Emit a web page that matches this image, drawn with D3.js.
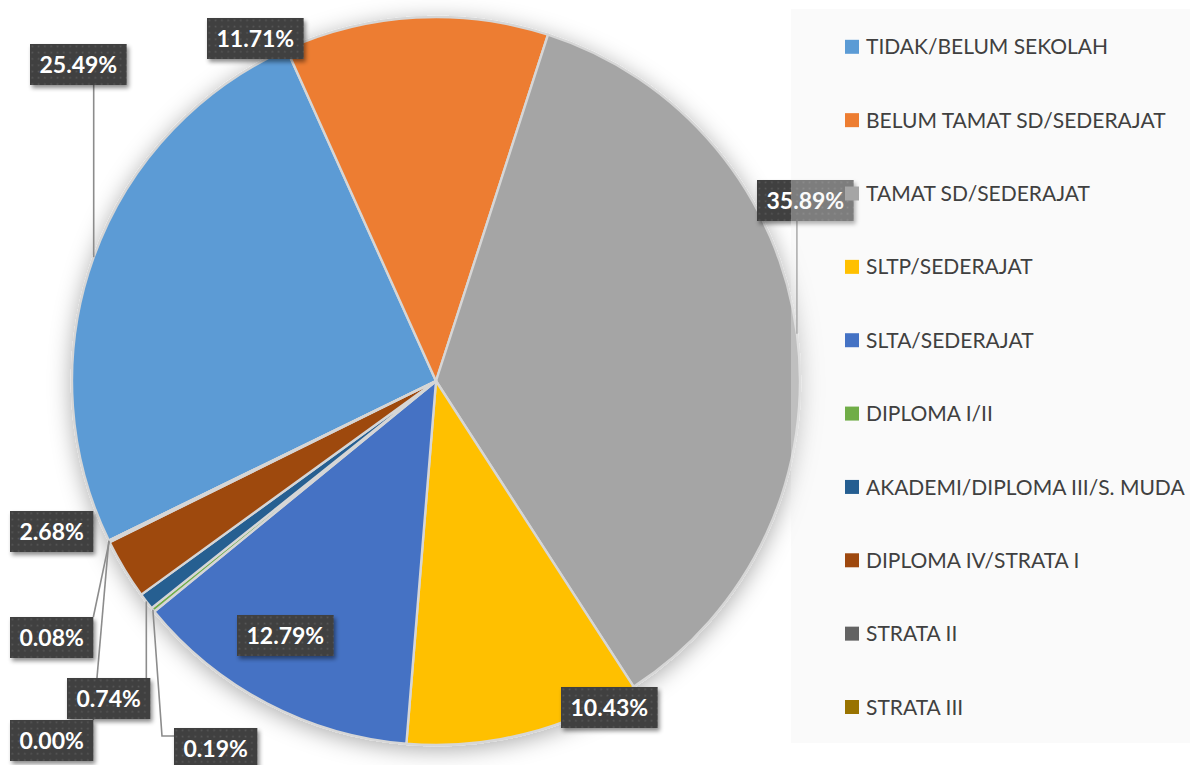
<!DOCTYPE html>
<html>
<head>
<meta charset="utf-8">
<script src="https://cdn.jsdelivr.net/npm/d3@7"></script>
<style>
  html, body { margin: 0; padding: 0; background: #fff; }
  svg { display: block; font-family: Lato, "Open Sans", sans-serif; }
</style>
</head>
<body>
<svg id="chart" width="1190" height="765"></svg>
<script>
// data, in slice order
var categories = ["TIDAK/BELUM SEKOLAH", "BELUM TAMAT SD/SEDERAJAT", "TAMAT SD/SEDERAJAT",
                  "SLTP/SEDERAJAT", "SLTA/SEDERAJAT", "DIPLOMA I/II",
                  "AKADEMI/DIPLOMA III/S. MUDA", "DIPLOMA IV/STRATA I", "STRATA II", "STRATA III"];
var shares = [25.49, 11.71, 35.89, 10.43, 12.79, 0.19, 0.74, 2.68, 0.08, 0.00];
var colors = ["#5b9bd5", "#ed7d31", "#a5a5a5", "#ffc000", "#4472c4",
              "#70ad47", "#255e91", "#9e480e", "#636363", "#997300"];

// label box placement (top-left), leader line and elbow flags
var labelPos = [
    {x: 30,  y: 44,  line: true,  elbow: false},
    {x: 207, y: 18,  line: false, elbow: false},
    {x: 757, y: 180, line: true,  elbow: false},
    {x: 561, y: 687, line: false, elbow: false},
    {x: 237, y: 615, line: false, elbow: false},
    {x: 174, y: 728, line: true,  elbow: true},
    {x: 67,  y: 678, line: true,  elbow: false},
    {x: 10,  y: 511, line: false, elbow: false},
    {x: 10,  y: 617, line: true,  elbow: false},
    {x: 10,  y: 720, line: true,  elbow: false}
];

var svg = d3.select("#chart");
var cx = 436, cy = 381, radius = 364;
var startA = -116 * Math.PI / 180;

var defs = svg.append("defs");
var pieShadow = defs.append("filter").attr("id", "pieShadow")
    .attr("x", "-20%").attr("y", "-20%").attr("width", "140%").attr("height", "140%");
pieShadow.append("feDropShadow").attr("dx", 0).attr("dy", 4)
    .attr("stdDeviation", 11).attr("flood-color", "#000").attr("flood-opacity", 0.32);

var boxShadow = defs.append("filter").attr("id", "boxShadow")
    .attr("x", "-20%").attr("y", "-30%").attr("width", "150%").attr("height", "170%");
boxShadow.append("feDropShadow").attr("dx", 2).attr("dy", 3)
    .attr("stdDeviation", 2.2).attr("flood-color", "#000").attr("flood-opacity", 0.45);

var dots = defs.append("pattern").attr("id", "dots")
    .attr("patternUnits", "userSpaceOnUse").attr("width", 6.3).attr("height", 6.3);
dots.append("rect").attr("width", 6.3).attr("height", 6.3).attr("fill", "#404040");
dots.append("rect").attr("x", 1.5).attr("y", 1.5).attr("width", 1.6).attr("height", 1.6).attr("fill", "#585858");

var pie = d3.pie().sort(null).value(function(d){ return d; })
    .startAngle(startA).endAngle(startA + 2 * Math.PI);
var arcs = pie(shares);

var arc = d3.arc().innerRadius(0).outerRadius(radius);

var pieG = svg.append("g")
    .attr("transform", "translate(" + cx + "," + cy + ")")
    .attr("filter", "url(#pieShadow)");

pieG.selectAll("path")
    .data(arcs)
    .enter().append("path")
    .attr("d", arc)
    .attr("fill", function(d, i){ return colors[i]; })
    .attr("stroke", "#d6d6d6")
    .attr("stroke-width", 2.4)
    .attr("stroke-linejoin", "round");

// leader lines
function arcPoint(d) {
    var a = (d.startAngle + d.endAngle) / 2;
    return [cx + radius * Math.sin(a), cy - radius * Math.cos(a)];
}

var fmt = d3.format(".2f");
var boxH = 41, padX = 9.5;

var labelG = svg.append("g");

// measure text widths first
var tmp = labelG.append("text").attr("font-size", 23).attr("font-weight", "bold");
var widths = arcs.map(function(d){
    tmp.text(fmt(d.data) + "%");
    return tmp.node().getComputedTextLength() + 2 * padX;
});
tmp.remove();

var lineG = svg.insert("g", "g:last-of-type");
arcs.forEach(function(d, i){
    var p = labelPos[i];
    if (!p.line) return;
    var ap = arcPoint(d);
    var w = widths[i];
    var pts;
    if (p.elbow) {
        var my = p.y + 8;
        pts = [ap, [p.x - 12, my], [p.x, my]];
    } else {
        var bx = Math.max(p.x, Math.min(p.x + w, ap[0]));
        var by = Math.max(p.y, Math.min(p.y + boxH, ap[1]));
        pts = [ap, [bx, by]];
    }
    lineG.append("path")
        .attr("d", d3.line()(pts))
        .attr("fill", "none")
        .attr("stroke", "#8c8c8c")
        .attr("stroke-width", 1.6);
});

var lab = labelG.selectAll("g.lab")
    .data(arcs)
    .enter().append("g")
    .attr("class", "lab")
    .attr("transform", function(d, i){ return "translate(" + labelPos[i].x + "," + labelPos[i].y + ")"; });

lab.append("rect")
    .attr("width", function(d, i){ return widths[i]; })
    .attr("height", boxH)
    .attr("fill", "url(#dots)")
    .attr("filter", "url(#boxShadow)");

lab.append("text")
    .attr("x", function(d, i){ return widths[i] / 2; })
    .attr("y", boxH / 2 + 8.4)
    .attr("text-anchor", "middle")
    .attr("font-size", 23)
    .attr("font-weight", "bold")
    .attr("fill", "#fff")
    .text(function(d){ return fmt(d.data) + "%"; });

// legend
var legendG = svg.append("g");
legendG.append("rect")
    .attr("x", 791).attr("y", 9)
    .attr("width", 399).attr("height", 734)
    .attr("fill", "#f2f2f2")
    .attr("fill-opacity", 0.35);

var ly = d3.scalePoint().domain(categories).range([46.8, 707]);

var item = legendG.selectAll("g.item")
    .data(categories)
    .enter().append("g")
    .attr("class", "item")
    .attr("transform", function(d){ return "translate(845," + ly(d) + ")"; });

item.append("rect")
    .attr("x", 0).attr("y", -7)
    .attr("width", 14).attr("height", 14)
    .attr("fill", function(d, i){ return colors[i]; });

item.append("text")
    .attr("x", 21)
    .attr("y", 7.6)
    .attr("font-size", 21)
    .attr("fill", "#404040")
    .text(function(d){ return d; });
</script>
</body>
</html>
